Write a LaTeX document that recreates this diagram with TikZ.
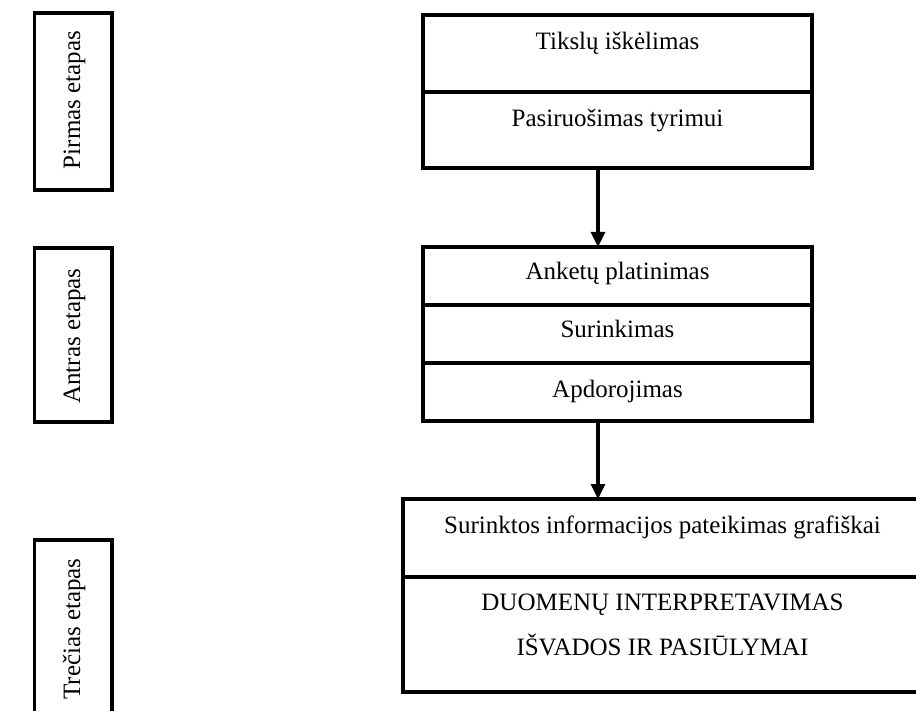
\documentclass[tikz,border=0pt]{standalone}
\usepackage{fontspec}
\setmainfont{Liberation Serif}
\usetikzlibrary{arrows.meta}
\begin{document}
\begin{tikzpicture}[x=1pt,y=-1pt,
  frame/.style={draw, line width=3.2pt, inner sep=0pt, outer sep=0pt},
  lbl/.style={font=\fontsize{25}{30}\selectfont, inner sep=0pt, anchor=base},
  vlbl/.style={lbl, rotate=90},
  flow/.style={line width=3.2pt, -{Triangle[width=14pt,length=15pt]}}]
\clip (0,0) rectangle (916,711);

% stage markers on the left
\node[frame, minimum width=77.5pt, minimum height=177pt] (st1) at (73.25,101.5) {};
\node[frame, minimum width=77.5pt, minimum height=174pt] (st2) at (73.25,335) {};
\node[frame, minimum width=77.5pt, minimum height=200pt] (st3) at (73.25,640) {};
\node[vlbl] (st1t) at (80,100) {Pirmas etapas};
\node[vlbl] (st2t) at (80,336) {Antras etapas};
\node[vlbl] (st3t) at (80,629) {Trečias etapas};

% first block
\node[frame, minimum width=389pt, minimum height=77pt] (t1) at (617.5,53.5) {};
\node[frame, minimum width=389pt, minimum height=76pt] (t2) at (617.5,130) {};
\node[lbl] (t1t) at (617.5,50) {Tikslų iškėlimas};
\node[lbl] (t2t) at (617.5,127) {Pasiruošimas tyrimui};

% second block
\node[frame, minimum width=389pt, minimum height=58pt] (a1) at (617.5,276) {};
\node[frame, minimum width=389pt, minimum height=58pt] (a2) at (617.5,334) {};
\node[frame, minimum width=389pt, minimum height=58pt] (a3) at (617.5,392) {};
\node[lbl] (a1t) at (617.5,280) {Anketų platinimas};
\node[lbl] (a2t) at (617.5,338) {Surinkimas};
\node[lbl] (a3t) at (617.5,397) {Apdorojimas};

% third block
\node[frame, minimum width=519pt, minimum height=78pt] (g1) at (662.5,538) {};
\node[frame, minimum width=519pt, minimum height=115pt] (g2) at (662.5,634.5) {};
\node[lbl] (g1t) at (662.5,533) {Surinktos informacijos pateikimas grafiškai};
\node[lbl] (g2t) at (662.5,610) {DUOMENŲ INTERPRETAVIMAS};
\node[lbl] (g3t) at (662.5,655) {IŠVADOS IR PASIŪLYMAI};

% connectors
\coordinate (ax) at (598,0);
\draw[flow] (t2.south -| ax) -- (a1.north -| ax);
\draw[flow] (a3.south -| ax) -- (g1.north -| ax);
\end{tikzpicture}
\end{document}
